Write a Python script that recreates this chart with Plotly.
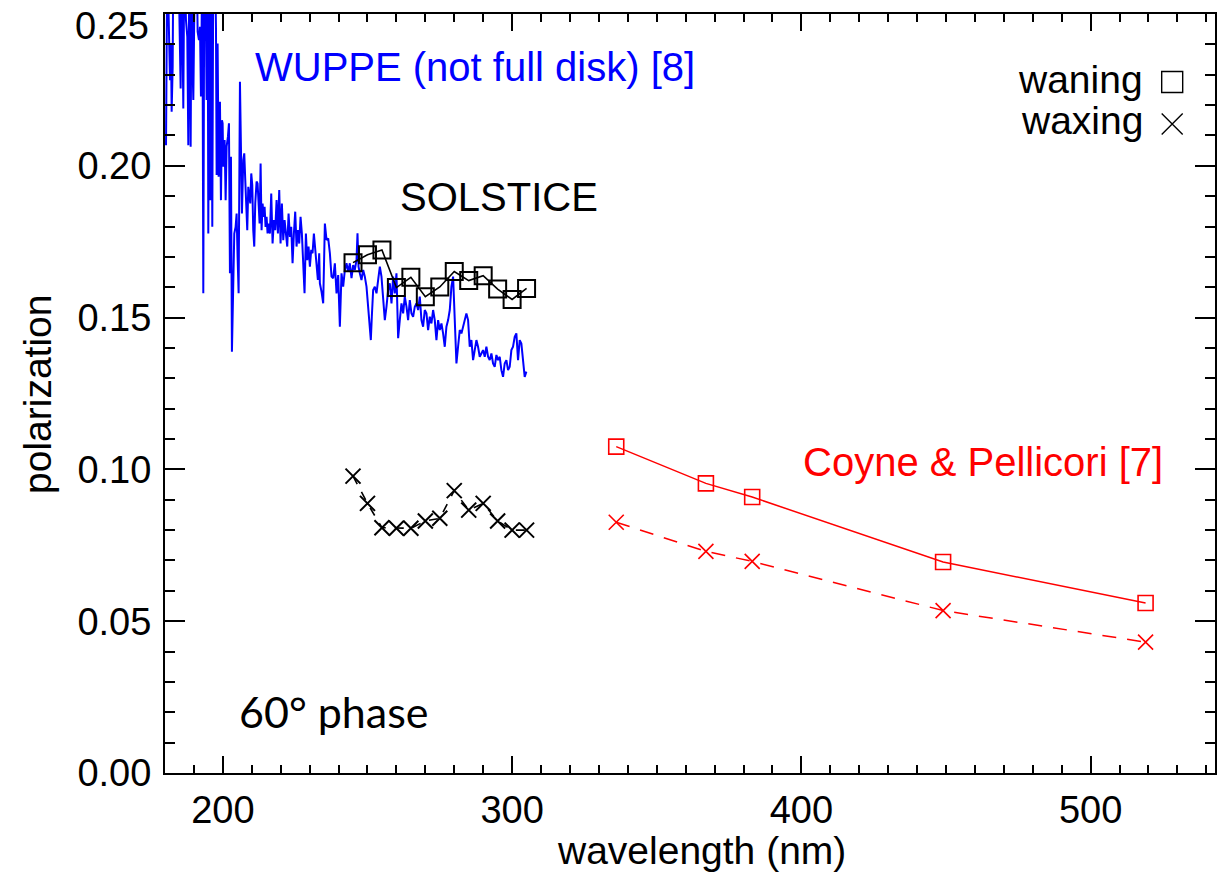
import plotly.graph_objects as go

# WUPPE lunar polarization spectrum (not full disk), wavelength in nm
wuppe_nm = [
    180.35, 180.8, 181.73, 182.07, 182.3, 182.65, 182.88, 183.5, 184.6, 185.41,
    185.76, 186.33, 186.68, 187.25, 187.71, 188.06, 188.4, 188.87, 189.21, 189.56,
    189.79, 190.36, 190.94, 191.28, 191.74, 192.09, 192.43, 192.9, 193.24, 193.59,
    193.93, 194.39, 194.74, 194.97, 195.31, 195.66, 196.0, 196.35, 196.7, 197.27,
    197.62, 197.85, 198.19, 198.54, 199.0, 199.34, 199.69, 199.92, 200.15, 200.61,
    200.96, 201.3, 201.76, 202.11, 202.45, 202.8, 203.14, 203.49, 203.95, 204.41,
    204.76, 205.1, 205.45, 205.91, 206.25, 206.6, 207.06, 207.4, 207.75, 208.09,
    208.44, 208.79, 209.13, 209.48, 209.82, 210.17, 210.51, 210.86, 211.2, 211.66,
    212.01, 212.35, 212.7, 213.05, 213.39, 213.74, 214.08, 214.43, 214.77, 215.12,
    215.46, 215.81, 216.27, 216.73, 217.19, 217.65, 218.11, 218.57, 219.03, 219.49,
    219.95, 220.41, 220.88, 221.34, 221.8, 222.26, 222.72, 223.18, 223.64, 224.1,
    224.56, 225.02, 225.48, 225.94, 226.4, 226.86, 227.32, 227.78, 228.24, 228.71,
    229.17, 229.63, 230.09, 230.55, 231.01, 231.47, 231.93, 232.39, 232.85, 233.31,
    233.54, 234.12, 234.69, 235.27, 235.84, 236.42, 237.0, 237.57, 238.15, 238.72,
    239.3, 239.87, 240.45, 241.02, 241.6, 242.18, 242.75, 243.33, 243.9, 244.48,
    245.05, 245.63, 246.21, 246.55, 246.9, 247.36, 247.93, 248.51, 249.08, 249.66,
    250.24, 250.81, 251.16, 251.5, 251.96, 252.54, 253.11, 253.69, 254.27, 254.84,
    255.42, 255.99, 256.57, 257.14, 257.72, 258.3, 258.87, 259.45, 260.02, 260.6,
    261.17, 261.75, 262.33, 262.9, 263.48, 264.05, 264.63, 265.2, 265.78, 266.36,
    266.93, 267.51, 268.08, 268.66, 269.23, 269.81, 270.39, 270.96, 271.54, 272.11,
    272.69, 273.26, 273.84, 274.42, 274.99, 275.57, 276.14, 276.72, 277.29, 277.87,
    278.45, 279.02, 279.6, 280.17, 280.75, 281.32, 281.9, 282.48, 283.05, 283.63,
    284.2, 284.78, 285.35, 285.93, 286.51, 287.08, 287.66, 288.23, 288.81, 289.38,
    289.96, 290.54, 291.11, 291.69, 292.26, 292.84, 293.41, 293.99, 294.57, 295.14,
    295.72, 296.29, 296.87, 297.44, 298.02, 298.6, 299.17, 299.75, 300.32, 300.9,
    301.47, 302.05, 302.63, 303.2, 303.78, 304.35, 304.93,
]
wuppe_pol = [
    0.2068, 0.27, 0.2282, 0.2403, 0.2178, 0.2326, 0.27, 0.27, 0.27, 0.2255,
    0.27, 0.2189, 0.27, 0.248, 0.2425, 0.2068, 0.27, 0.2063, 0.27, 0.2315,
    0.2217, 0.27, 0.27, 0.2442, 0.2414, 0.2458, 0.2228, 0.27, 0.158, 0.27,
    0.27, 0.2217, 0.27, 0.1777, 0.27, 0.1887, 0.27, 0.1799, 0.27, 0.27,
    0.2458, 0.197, 0.2403, 0.1964, 0.2211, 0.1887, 0.215, 0.214, 0.1997, 0.2085,
    0.1887, 0.2063, 0.2096, 0.214, 0.1646, 0.203, 0.1388, 0.158, 0.1777, 0.1799,
    0.1843, 0.17, 0.158, 0.2277, 0.203, 0.1843, 0.2019, 0.2041, 0.1953, 0.1887,
    0.1788, 0.1931, 0.1898, 0.1876, 0.1975, 0.1937, 0.1788, 0.1734, 0.1876, 0.1948,
    0.1942, 0.1887, 0.181, 0.2008, 0.1788, 0.1876, 0.1832, 0.1865, 0.1799, 0.1832,
    0.1777, 0.181, 0.1777, 0.1909, 0.1744, 0.1821, 0.1788, 0.1887, 0.1777, 0.192,
    0.1744, 0.1876, 0.1755, 0.1821, 0.1777, 0.1734, 0.1843, 0.1766, 0.1799, 0.1679,
    0.1777, 0.1849, 0.1734, 0.1788, 0.1744, 0.1832, 0.1777, 0.17, 0.158, 0.1777,
    0.1689, 0.1734, 0.1668, 0.1723, 0.1712, 0.1777, 0.1734, 0.1668, 0.1624, 0.1712,
    0.1613, 0.1585, 0.1547, 0.181, 0.1756, 0.1761, 0.1712, 0.1635, 0.163, 0.1679,
    0.158, 0.164, 0.147, 0.1646, 0.1602, 0.1657, 0.1679, 0.1651, 0.1679, 0.163,
    0.1673, 0.1657, 0.169, 0.1778, 0.1668, 0.1646, 0.1624, 0.1657, 0.1635, 0.1602,
    0.1536, 0.147, 0.1426, 0.1503, 0.1591, 0.1602, 0.158, 0.1624, 0.1668, 0.1635,
    0.1558, 0.1492, 0.1536, 0.1591, 0.1613, 0.1547, 0.1635, 0.158, 0.1646, 0.1432,
    0.1492, 0.1547, 0.1514, 0.1569, 0.1536, 0.1492, 0.1558, 0.1514, 0.1503, 0.1536,
    0.1547, 0.1525, 0.1569, 0.1492, 0.147, 0.1525, 0.1514, 0.1459, 0.1503, 0.1481,
    0.1525, 0.1492, 0.1426, 0.1492, 0.1459, 0.1481, 0.1448, 0.1404, 0.147, 0.1492,
    0.1525, 0.1602, 0.1635, 0.1514, 0.1349, 0.1404, 0.1459, 0.1448, 0.147, 0.1492,
    0.1514, 0.1492, 0.1404, 0.1426, 0.136, 0.1393, 0.1426, 0.1404, 0.1371, 0.1382,
    0.1393, 0.1371, 0.1404, 0.1371, 0.136, 0.1382, 0.1349, 0.1338, 0.1377, 0.136,
    0.1371, 0.1327, 0.1305, 0.1349, 0.136, 0.1327, 0.1338, 0.1393, 0.1404, 0.1437,
    0.1448, 0.136, 0.1426, 0.1415, 0.1349, 0.1305, 0.1322,
]

# SOLSTICE disk-integrated polarization
solstice_nm = [245, 250, 255, 260, 265, 270, 275, 280, 285, 290, 295, 300, 305]
solstice_waning = [0.1681, 0.1707, 0.1723, 0.1599, 0.1633, 0.1569, 0.1601,
                   0.1652, 0.1622, 0.1638, 0.1594, 0.1560, 0.1596]
solstice_waxing = [0.0978, 0.0888, 0.0808, 0.0806, 0.0806, 0.0830, 0.0839,
                   0.0930, 0.0866, 0.0888, 0.0830, 0.0800, 0.0800]

# Coyne & Pellicori ground-based measurements
coyne_nm = [336, 367, 383, 449, 519]
coyne_waning = [0.1075, 0.0954, 0.0909, 0.0695, 0.0560]
coyne_waxing = [0.0826, 0.0730, 0.0697, 0.0535, 0.0431]

# axis ticks
x_tickvals = [200, 300, 400, 500]
y_tickvals = [0.0, 0.05, 0.10, 0.15, 0.20, 0.25]
y_ticktext = ["0.00", "0.05", "0.10", "0.15", "0.20", "0.25"]

# key symbols placed after the phase labels (upper right)
key_nm = [528.2, 528.2]
key_pol = [0.2276, 0.2138]
key_symbols = ["square-open", "x-thin-open"]

BLUE = "#0000FF"
RED = "#FF0000"
BLACK = "#000000"
FONT = "Liberation Sans, Arial, Helvetica, sans-serif"

W, H = 1228, 878
L, R, T, B = 165, 13, 14, 105

fig = go.Figure()

fig.add_trace(go.Scatter(
    x=wuppe_nm, y=wuppe_pol, mode="lines",
    line=dict(color=BLUE, width=2), showlegend=False,
))

fig.add_trace(go.Scatter(
    x=solstice_nm, y=solstice_waning, mode="lines+markers",
    line=dict(color=BLACK, width=1.6),
    marker=dict(symbol="square-open", size=17, color=BLACK,
                line=dict(color=BLACK, width=2)),
    showlegend=False,
))
fig.add_trace(go.Scatter(
    x=solstice_nm, y=solstice_waxing, mode="lines+markers",
    line=dict(color=BLACK, width=1.6, dash="dash"),
    marker=dict(symbol="x-thin-open", size=15, color=BLACK,
                line=dict(color=BLACK, width=2)),
    showlegend=False,
))

fig.add_trace(go.Scatter(
    x=coyne_nm, y=coyne_waning, mode="lines+markers",
    line=dict(color=RED, width=1.5),
    marker=dict(symbol="square-open", size=15, color=RED,
                line=dict(color=RED, width=1.6)),
    showlegend=False,
))
fig.add_trace(go.Scatter(
    x=coyne_nm, y=coyne_waxing, mode="lines+markers",
    line=dict(color=RED, width=1.5, dash="14px,11px"),
    marker=dict(symbol="x-thin-open", size=15, color=RED,
                line=dict(color=RED, width=1.6)),
    showlegend=False,
))

fig.add_trace(go.Scatter(
    x=key_nm, y=key_pol, mode="markers",
    marker=dict(symbol=key_symbols, size=21, color=BLACK,
                line=dict(color=BLACK, width=1.4)),
    showlegend=False, hoverinfo="skip",
))

# text labels
labels = [
    dict(text="WUPPE (not full disk) [8]", x=210.3, y=0.2325, xanchor="left",
         color=BLUE, size=40, family=FONT),
    dict(text="SOLSTICE", x=260.6, y=0.1897, xanchor="left",
         color=BLACK, size=40, family=FONT),
    dict(text="Coyne &amp; Pellicori [7]", x=399.9, y=0.1024, xanchor="left",
         color=RED, size=40, family=FONT),
    dict(text="waning", x=518.8, y=0.2286, xanchor="right",
         color=BLACK, size=39, family=FONT),
    dict(text="waxing", x=518.8, y=0.2148, xanchor="right",
         color=BLACK, size=39, family=FONT),
    dict(text="60° phase", x=205.0, y=0.0201, xanchor="left",
         color=BLACK, size=43, family="Lato, Carlito, sans-serif"),
]
for lb in labels:
    fig.add_annotation(
        x=lb["x"], y=lb["y"], xref="x", yref="y", text=lb["text"],
        showarrow=False, xanchor=lb["xanchor"], yanchor="middle",
        font=dict(color=lb["color"], size=lb["size"], family=lb["family"]),
    )


# axis titles, positioned in pixels and converted to paper coordinates
def paper_x(px):
    return (px - L) / (W - L - R)


def paper_y(py):
    return (H - B - py) / (H - T - B)


fig.add_annotation(x=paper_x(701), y=paper_y(850), xref="paper", yref="paper",
                   text="wavelength (nm)", showarrow=False,
                   xanchor="center", yanchor="middle",
                   font=dict(size=39, family=FONT, color=BLACK))
fig.add_annotation(x=paper_x(37), y=paper_y(395), xref="paper", yref="paper",
                   text="polarization", showarrow=False, textangle=-90,
                   xanchor="center", yanchor="middle",
                   font=dict(size=39, family=FONT, color=BLACK))

# the topmost y label sits on the frame edge, so it is written as text
fig.add_annotation(x=paper_x(151), y=paper_y(3), xref="paper", yref="paper",
                   text=y_ticktext[-1], showarrow=False,
                   xanchor="right", yanchor="top",
                   font=dict(size=38, family=FONT, color=BLACK))

axis_common = dict(
    showline=True, linecolor=BLACK, linewidth=2, mirror="allticks",
    ticks="inside", tickcolor=BLACK, tickwidth=1.5, showgrid=False, zeroline=False,
    tickfont=dict(size=38, family=FONT, color=BLACK),
)

fig.update_xaxes(
    range=[180, 543], tickmode="array", tickvals=x_tickvals,
    ticklen=17, ticklabelstandoff=2,
    minor=dict(dtick=10, tick0=0, ticks="inside", ticklen=8, tickcolor=BLACK,
               tickwidth=1.5, showgrid=False),
    **axis_common,
)
fig.update_yaxes(
    range=[0, 0.25001], tickmode="array",
    tickvals=y_tickvals, ticktext=y_ticktext[:-1] + [""],
    ticklen=20, ticklabelstandoff=4,
    minor=dict(dtick=0.01, tick0=0, ticks="inside", ticklen=10, tickcolor=BLACK,
               tickwidth=1.5, showgrid=False),
    **axis_common,
)

fig.update_layout(
    width=W, height=H,
    margin=dict(l=L, r=R, t=T, b=B, pad=0),
    paper_bgcolor="white", plot_bgcolor="white",
    showlegend=False,
)

fig.write_html("out.html")
